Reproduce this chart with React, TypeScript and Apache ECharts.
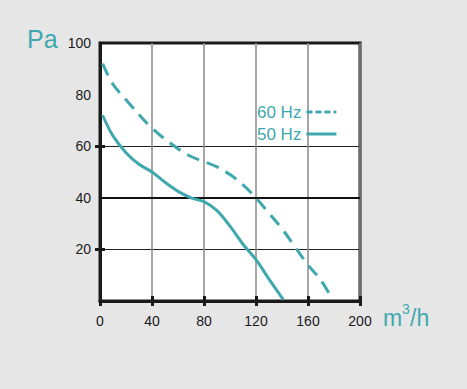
import React, { useEffect, useRef } from "react";
import * as echarts from "echarts";

const xTicks = [0, 40, 80, 120, 160, 200];
const yTicks = [20, 40, 60, 80, 100];
const series60Name = "60 Hz";
const series50Name = "50 Hz";
const flow60 = [2, 10, 20, 40, 60, 70, 80, 90, 100, 110, 120, 130, 140, 150, 160, 170, 179];
const pressure60 = [92, 84, 78, 67, 59, 56, 54, 52, 49, 45, 40, 34, 28, 21, 14, 8, 0.5];
const flow50 = [2, 10, 20, 30, 40, 50, 60, 70, 80, 90, 100, 110, 120, 130, 141];
const pressure50 = [72, 64, 57.5, 53, 50, 46, 42.5, 40, 38.5, 35, 29, 22, 16, 8.5, 0.5];

const TEAL = "#3fa8ae";
const FONT = "'Liberation Sans', Arial, Helvetica, sans-serif";
const DASH_ICON = "path://M0,0H6V3H0Z M9,0H15V3H9Z M18,0H24V3H18Z M27,0H30V3H27Z";
const SOLID_ICON = "path://M0,0H30V3H0Z";

export default function App() {
  const ref = useRef<HTMLDivElement>(null);
  useEffect(() => {
    if (!ref.current) return;
    const chart = echarts.init(ref.current, undefined, { renderer: "svg" });
    const grid = { left: 100, top: 43, right: 107, bottom: 88 };
    chart.setOption({
      animation: false,
      backgroundColor: "#e6e6e7",
      textStyle: { fontFamily: FONT },
      grid: {
        ...grid,
        show: true,
        backgroundColor: "#ffffff",
        borderColor: "#1a1a1a",
        borderWidth: 3,
      },
      legend: {
        orient: "vertical",
        left: 257,
        top: 103,
        padding: 0,
        align: "right",
        itemWidth: 30,
        itemHeight: 3,
        itemGap: 4,
        data: [
          { name: series60Name, icon: DASH_ICON },
          { name: series50Name, icon: SOLID_ICON },
        ],
        textStyle: { color: TEAL, fontSize: 17, fontFamily: FONT, padding: [0, 0, 0, 0], lineHeight: 18 },
      },
      xAxis: [
        {
          type: "value",
          min: 0,
          max: 200,
          interval: 40,
          axisLine: { show: true, lineStyle: { color: "#1a1a1a", width: 3 } },
          axisTick: { show: true, length: 5, lineStyle: { color: "#1a1a1a", width: 3 } },
          axisLabel: { color: "#1a1a1a", fontSize: 14, margin: 13, fontFamily: FONT, customValues: xTicks },
          splitLine: { show: true, lineStyle: { color: "#8a8a8a", width: 1.5 } },
        },
        {
          type: "value",
          min: 0,
          max: 200,
          interval: 40,
          position: "bottom",
          axisLine: { show: false },
          axisTick: { show: true, inside: true, length: 5, lineStyle: { color: "#1a1a1a", width: 3 } },
          axisLabel: { show: false },
          splitLine: { show: false },
        },
      ],
      yAxis: [
        {
          type: "value",
          min: 0,
          max: 100,
          interval: 20,
          axisLine: { show: true, lineStyle: { color: "#1a1a1a", width: 3 } },
          axisTick: { show: true, length: 5, customValues: [20, 60], lineStyle: { color: "#1a1a1a", width: 3 } },
          axisLabel: {
            color: "#1a1a1a",
            fontSize: 14,
            margin: 9,
            fontFamily: FONT,
            customValues: yTicks,
          },
          splitLine: { show: true, lineStyle: { color: "#222222", width: 1.2 } },
        },
        {
          type: "value",
          min: 0,
          max: 100,
          interval: 20,
          position: "left",
          axisLine: { show: false },
          axisTick: { show: true, inside: true, length: 5, customValues: [20, 60], lineStyle: { color: "#1a1a1a", width: 3 } },
          axisLabel: { show: false },
          splitLine: { show: false },
        },
      ],
      graphic: [
        {
          type: "text",
          left: 27,
          top: 26,
          style: { text: "Pa", fill: TEAL, fontSize: 25, fontFamily: FONT },
        },
        {
          type: "text",
          left: 383,
          top: 306,
          style: { text: "m", fill: TEAL, fontSize: 23, fontFamily: FONT },
        },
        {
          type: "text",
          left: 402,
          top: 302,
          style: { text: "3", fill: TEAL, fontSize: 14, fontFamily: FONT },
        },
        {
          type: "text",
          left: 410,
          top: 306,
          style: { text: "/h", fill: TEAL, fontSize: 23, fontFamily: FONT },
        },
      ],
      series: [
        {
          name: series60Name,
          type: "line",
          smooth: 0.35,
          symbol: "none",
          data: flow60.map((x, i) => [x, pressure60[i]]),
          itemStyle: { color: TEAL },
          lineStyle: { color: TEAL, width: 3, type: [13, 8] },
          markLine: {
            silent: true,
            symbol: "none",
            label: { show: false },
            lineStyle: { color: "#111", width: 2, type: "solid" },
            data: [{ yAxis: 40 }],
            z: 1,
          },
          z: 5,
        },
        {
          name: series50Name,
          type: "line",
          smooth: 0.35,
          symbol: "none",
          data: flow50.map((x, i) => [x, pressure50[i]]),
          itemStyle: { color: TEAL },
          lineStyle: { color: TEAL, width: 3 },
          z: 5,
        },
      ],
    });
    return () => chart.dispose();
  }, []);
  return <div ref={ref} style={{ width: 467, height: 389, position: "absolute", left: 0, top: 0 }} />;
}
